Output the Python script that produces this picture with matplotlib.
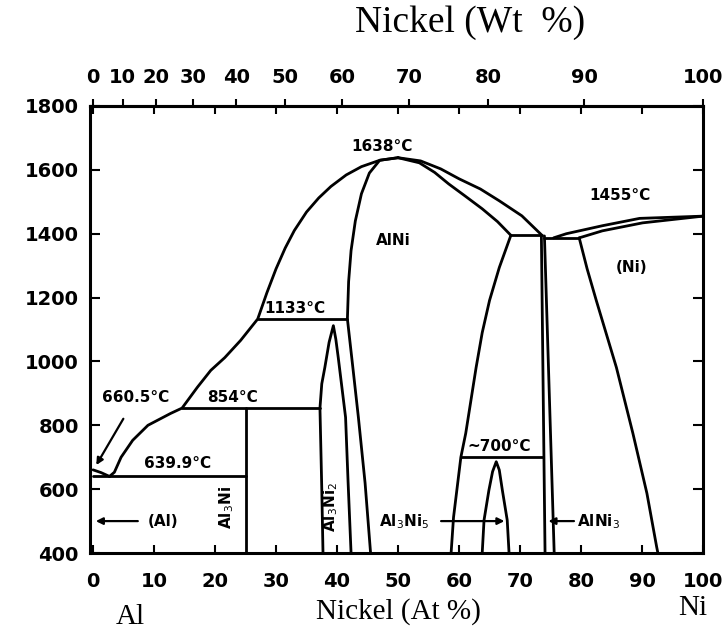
import numpy as np
import matplotlib
matplotlib.use("Agg")
import matplotlib.pyplot as plt

# ---- data (at% Ni, temperature in C) ----
# Al-rich liquidus: Al melting point -> eutectic
liq_al_x = [0, 1.3, 2.7]
liq_al_T = [660.5, 652, 639.9]

# liquidus from eutectic up to the AlNi congruent maximum
liq_x = [2.7, 3.5, 4.6, 6.5, 9.0, 12.7, 14.6, 17.1, 19.3, 21.6, 24.2, 27.0,
         28.5, 30.0, 31.5, 33.0, 35.0, 37.0, 39.0, 41.5, 44.0, 47.0, 50.0]
liq_T = [639.9, 653, 700, 753, 800, 837, 854, 919, 972, 1012, 1066, 1133,
         1215, 1290, 1355, 1410, 1468, 1512, 1548, 1584, 1610, 1630, 1638]

# liquidus from the maximum down to the 1395 C peritectic
liq_r_x = [50.0, 53.7, 57.0, 60.0, 63.5, 66.6, 70.3, 73.6]
liq_r_T = [1638, 1628, 1603, 1572, 1540, 1503, 1456, 1395]

# AlNi right solidus above 1395
alni_sol_r_x = [50.0, 53.5, 56.0, 58.3, 61.0, 63.8, 66.3, 68.5]
alni_sol_r_T = [1638, 1622, 1592, 1556, 1518, 1478, 1438, 1395]

# AlNi left boundary (above and below 1133 C)
alni_left_x = [50.0, 47.0, 45.3, 44.0, 43.0, 42.3, 41.9, 41.7, 42.6, 43.5, 44.6, 45.5]
alni_left_T = [1638, 1630, 1590, 1525, 1440, 1347, 1250, 1133, 980, 825, 619, 400]

# AlNi right boundary below 1395
alni_right_x = [68.5, 66.6, 65.0, 63.8, 62.8, 61.1, 60.3, 59.1, 58.7]
alni_right_T = [1395, 1294, 1191, 1090, 981, 775, 700, 512, 400]

# Al3Ni2 dome
al3ni2_x = [37.7, 37.5, 37.2, 37.5, 38.0, 38.7, 39.4, 39.8, 40.2, 41.4, 41.8, 42.3]
al3ni2_T = [400, 600, 854, 930, 981, 1060, 1112, 1070, 1012, 825, 628, 400]

# Al3Ni5 dome
al3ni5_x = [63.8, 64.1, 64.9, 65.5, 66.1, 66.6, 67.1, 67.9, 68.2]
al3ni5_T = [400, 503, 597, 655, 686, 660, 597, 503, 400]

# AlNi3 boundaries
alni3_l_x = [73.5, 74.1]
alni3_l_T = [1393, 400]
alni3_r_x = [74.0, 75.6]
alni3_r_T = [1393, 400]

# Ni-rich liquidus and (Ni) solidus
liq_ni_x = [75.5, 77.6, 83.5, 89.6, 100.0]
liq_ni_T = [1387, 1400, 1425, 1448, 1455]
sol_ni_x = [79.7, 83.5, 90.1, 100.0]
sol_ni_T = [1387, 1409, 1434, 1455]

# (Ni) solvus
solvus_ni_x = [79.7, 81.0, 82.5, 85.8, 88.5, 90.8, 92.4, 92.6]
solvus_ni_T = [1387, 1290, 1191, 981, 775, 587, 419, 400]

# invariant lines: (x_start, x_end, T)
isotherms = [
    (0.0, 25.0, 639.9),
    (14.6, 37.2, 854),
    (27.0, 41.7, 1133),
    (68.5, 73.6, 1395),
    (74.0, 79.7, 1387),
    (60.3, 73.8, 700),
]
al3ni_x = 25.0

at_ticks = list(range(0, 101, 10))
wt_ticks = [0, 10, 20, 30, 40, 50, 60, 70, 80, 90, 100]
y_ticks = list(range(400, 1801, 200))

M_AL, M_NI = 26.98, 58.69


def at_to_wt(a):
    a = np.asarray(a, dtype=float)
    return 100 * a * M_NI / (a * M_NI + (100 - a) * M_AL)


def wt_to_at(w):
    w = np.asarray(w, dtype=float)
    return 100 * (w / M_NI) / (w / M_NI + (100 - w) / M_AL)


fig = plt.figure(figsize=(7.28, 6.4), dpi=100)
ax = fig.add_axes([0.1236, 0.1359, 0.8421, 0.6985])
LW = 2.0
kw = dict(color='black', lw=LW, solid_capstyle='round', solid_joinstyle='round')

for xs, ts in [(liq_al_x, liq_al_T), (liq_x, liq_T), (liq_r_x, liq_r_T),
               (alni_sol_r_x, alni_sol_r_T), (alni_left_x, alni_left_T),
               (alni_right_x, alni_right_T), (al3ni2_x, al3ni2_T),
               (al3ni5_x, al3ni5_T), (alni3_l_x, alni3_l_T),
               (alni3_r_x, alni3_r_T), (liq_ni_x, liq_ni_T),
               (sol_ni_x, sol_ni_T), (solvus_ni_x, solvus_ni_T)]:
    ax.plot(xs, ts, **kw)

for x0, x1, t in isotherms:
    ax.plot([x0, x1], [t, t], **kw)
ax.plot([al3ni_x, al3ni_x], [400, 854], **kw)

# labels
lab = dict(fontsize=11, fontweight='bold', ha='center', va='center')
ax.text(47.3, 1674, '1638°C', **lab)
ax.text(49.3, 1378, 'AlNi', **lab)
ax.text(86.3, 1519, '1455°C', **lab)
ax.text(88.3, 1294, '(Ni)', **lab)
ax.text(33.1, 1165, '1133°C', **lab)
ax.text(22.9, 887, '854°C', **lab)
ax.text(7.0, 888, '660.5°C', **lab)
ax.text(13.8, 680, '639.9°C', **lab)
ax.text(66.6, 733, '~700°C', **lab)
ax.text(21.9, 544, 'Al$_3$Ni', rotation=90, **lab)
ax.text(39.0, 545, 'Al$_3$Ni$_2$', rotation=90, **lab)
ax.text(51.0, 497, 'Al$_3$Ni$_5$', **lab)
ax.text(82.8, 497, 'AlNi$_3$', **lab)
ax.text(11.4, 500, '(Al)', **lab)

arr = dict(arrowstyle='-|>', color='black', lw=1.6, mutation_scale=10)
ax.annotate('', xy=(0.3, 668), xytext=(5.2, 828), arrowprops=arr)
ax.annotate('', xy=(0.0, 500), xytext=(7.8, 500), arrowprops=arr)
ax.annotate('', xy=(67.9, 500), xytext=(56.6, 500), arrowprops=arr)
ax.annotate('', xy=(74.2, 500), xytext=(79.3, 500), arrowprops=arr)

# axes
ax.set_xlim(-0.5, 100)
ax.set_ylim(400, 1800)
for s in ax.spines.values():
    s.set_linewidth(2.2)
ax.set_xticks(at_ticks)
ax.set_xticklabels([str(t) for t in at_ticks], fontsize=14, fontweight='bold')
ax.set_yticks(y_ticks)
ax.set_yticklabels([str(t) for t in y_ticks], fontsize=14, fontweight='bold')
ax.tick_params(axis='x', direction='in', top=True, length=6, width=1.5, pad=14)
ax.tick_params(axis='y', direction='in', right=True, length=7, width=1.5, pad=8)

sec = ax.secondary_xaxis('top', functions=(at_to_wt, wt_to_at))
sec.set_xticks(wt_ticks, labels=[str(t) for t in wt_ticks],
               fontsize=14, fontweight='bold')
sec.tick_params(direction='out', length=5, width=1.5, pad=9)
sec.spines['top'].set_linewidth(2.2)

serif = 'Liberation Serif'
fig.text(0.646, 0.964, 'Nickel (Wt  %)', family=serif, fontsize=27,
         ha='center', va='center')
fig.text(0.547, 0.044, 'Nickel (At %)', family=serif, fontsize=21,
         ha='center', va='center')
fig.text(0.179, 0.036, 'Al', family=serif, fontsize=21, ha='center', va='center')
fig.text(0.952, 0.050, 'Ni', family=serif, fontsize=21, ha='center', va='center')

fig.savefig('out.png', dpi=100)
